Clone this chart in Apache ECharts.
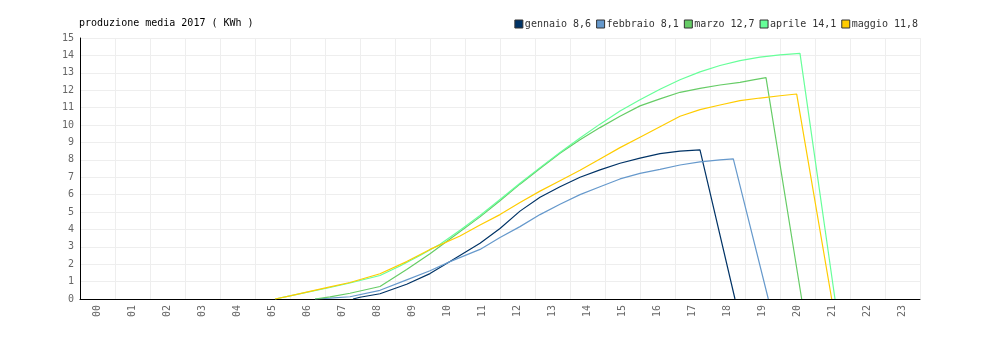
<!DOCTYPE html>
<html>
<head>
<meta charset="utf-8">
<script src="https://cdn.jsdelivr.net/npm/echarts@6/dist/echarts.min.js"></script>
<style>html,body{margin:0;padding:0;background:#fff}#c{width:1000px;height:340px}</style>
</head>
<body>
<div id="c"></div>
<script>
const hours = ['00','01','02','03','04','05','06','07','08','09','10','11','12','13','14','15','16','17','18','19','20','21','22','23'];
const seriesNames = ['gennaio 8,6','febbraio 8,1','marzo 12,7','aprile 14,1','maggio 11,8'];
const seriesColors = ['#003366','#6699cc','#66cc66','#66ff99','#ffcc00'];

const genT = [7.8, 8.0, 8.571, 9.333, 10.0, 10.571, 11.429, 12.0, 12.571, 13.143, 13.714, 14.286, 14.857, 15.429, 16.0, 16.571, 17.143, 17.714, 18.714];
const genV = [0, 0.1, 0.3, 0.85, 1.46, 2.15, 3.2, 4.05, 5.05, 5.85, 6.45, 7.0, 7.42, 7.8, 8.1, 8.35, 8.5, 8.57, 0];

const febT = [6.714, 7.143, 7.714, 8.571, 9.333, 10.0, 10.571, 11.429, 12.0, 12.571, 13.143, 13.714, 14.286, 14.857, 15.429, 16.0, 16.571, 17.143, 17.714, 18.286, 18.666, 19.666];
const febV = [0, 0.05, 0.13, 0.5, 1.1, 1.62, 2.15, 2.85, 3.53, 4.16, 4.85, 5.45, 6.0, 6.45, 6.9, 7.22, 7.45, 7.7, 7.88, 8.0, 8.05, 0];

const marT = [6.714, 7.143, 7.714, 8.571, 9.333, 10.0, 10.571, 11.429, 12.0, 12.571, 13.143, 13.714, 14.286, 14.857, 15.429, 16.0, 16.571, 17.143, 17.714, 18.286, 18.857, 19.237, 19.6, 20.62];
const marV = [0, 0.12, 0.33, 0.72, 1.7, 2.6, 3.45, 4.72, 5.65, 6.6, 7.5, 8.38, 9.15, 9.85, 10.5, 11.1, 11.5, 11.88, 12.1, 12.3, 12.45, 12.59, 12.72, 0];

const aprT = [5.571, 6.0, 6.571, 7.143, 7.714, 8.571, 9.143, 9.714, 10.286, 10.857, 11.429, 12.0, 12.571, 13.143, 13.714, 14.286, 14.857, 15.429, 16.0, 16.571, 17.143, 17.714, 18.286, 18.857, 19.429, 20.0, 20.571, 21.571];
const aprV = [0, 0.18, 0.42, 0.66, 0.92, 1.35, 1.9, 2.5, 3.15, 3.95, 4.8, 5.72, 6.65, 7.55, 8.42, 9.25, 10.05, 10.8, 11.45, 12.05, 12.6, 13.05, 13.42, 13.7, 13.9, 14.03, 14.12, 0];

const magT = [5.571, 6.0, 6.571, 7.143, 7.714, 8.571, 9.333, 10.0, 10.857, 11.429, 12.0, 12.571, 13.143, 13.714, 14.286, 14.857, 15.429, 16.0, 16.571, 17.143, 17.714, 18.286, 18.857, 19.429, 20.0, 20.477, 21.477];
const magV = [0, 0.18, 0.44, 0.7, 0.95, 1.45, 2.15, 2.85, 3.62, 4.25, 4.85, 5.55, 6.2, 6.8, 7.4, 8.05, 8.7, 9.3, 9.9, 10.5, 10.88, 11.15, 11.4, 11.55, 11.68, 11.78, 0];

const allT = [genT, febT, marT, aprT, magT];
const allV = [genV, febV, marV, aprV, magV];

const FONT = 'DejaVu Sans Mono';
const chart = echarts.init(document.getElementById('c'), null, {renderer: 'canvas'});
chart.setOption({
  animation: false,
  backgroundColor: '#fff',
  textStyle: {fontFamily: FONT},
  title: {
    text: 'produzione media 2017 ( KWh )',
    left: 74, top: 13,
    textStyle: {fontFamily: FONT, fontSize: 10, fontWeight: 'normal', color: '#000'}
  },
  legend: {
    right: 77, top: 14,
    icon: 'rect',
    itemWidth: 8, itemHeight: 8, itemGap: 5,
    itemStyle: {borderColor: '#333', borderWidth: 1},
    textStyle: {fontFamily: FONT, fontSize: 10, color: '#333', padding: [0, 0, 0, -3]},
    data: seriesNames
  },
  grid: {left: 80, right: 80, top: 38, bottom: 41, containLabel: false},
  xAxis: [
    {
      type: 'category', data: hours, boundaryGap: true,
      axisLine: {lineStyle: {color: '#000', width: 1}},
      axisTick: {show: false},
      axisLabel: {rotate: 90, fontFamily: FONT, fontSize: 10, color: '#666', margin: 6, interval: 0, padding: [4, 0, 0, 0]},
      splitLine: {show: true, interval: 0, lineStyle: {color: '#eeeeee', width: 1}}
    },
    {type: 'value', min: 0, max: 24, show: false}
  ],
  yAxis: {
    type: 'value', min: 0, max: 15, interval: 1,
    axisLine: {show: true, lineStyle: {color: '#000', width: 1}},
    axisTick: {show: false},
    axisLabel: {fontFamily: FONT, fontSize: 10, color: '#666', margin: 6},
    splitLine: {show: true, lineStyle: {color: '#eeeeee', width: 1}}
  },
  series: seriesNames.map((n, i) => ({
    name: n, type: 'line', xAxisIndex: 1,
    showSymbol: false, symbol: 'none',
    color: seriesColors[i],
    lineStyle: {width: 1.2, color: seriesColors[i]},
    data: allT[i].map((t, k) => [t, allV[i][k]])
  }))
});
</script>
</body>
</html>
